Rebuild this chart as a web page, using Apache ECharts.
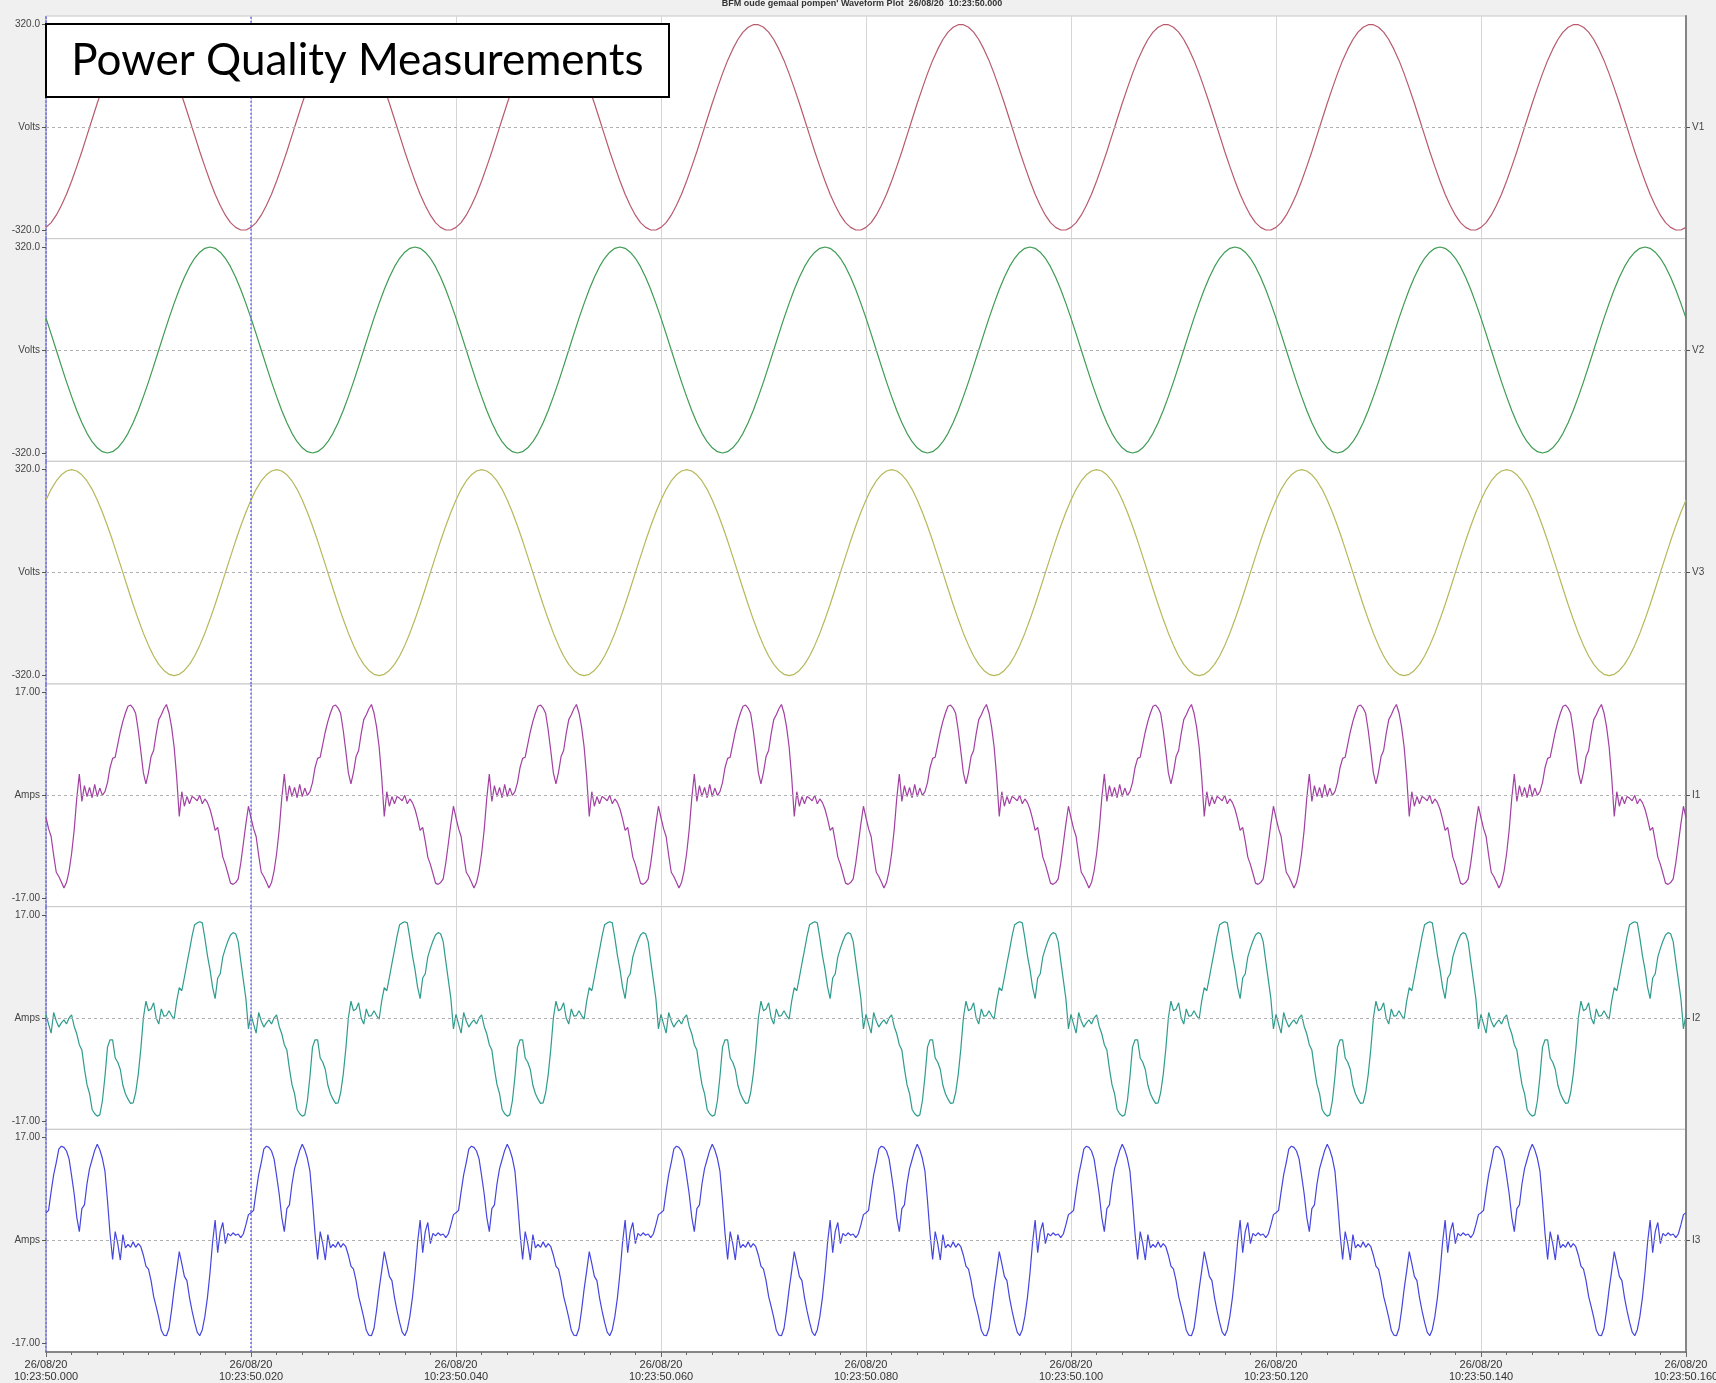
<!DOCTYPE html>
<html>
<head>
<meta charset="utf-8">
<script src="https://cdn.jsdelivr.net/npm/echarts@6/dist/echarts.min.js"></script>
<style>
html,body{margin:0;padding:0;background:#f0f0f0;}
#chart{width:1716px;height:1383px;}
</style>
</head>
<body>
<div id="chart"></div>
<script>
// ---------- data (time in ms from 10:23:50.000) ----------
const headerTitle = "BFM oude gemaal pompen' Waveform Plot  26/08/20  10:23:50.000";
const boxTitle = 'Power Quality Measurements';
const xTickDate = '26/08/20';
const xTickTimes = ['10:23:50.000','10:23:50.020','10:23:50.040','10:23:50.060','10:23:50.080','10:23:50.100','10:23:50.120','10:23:50.140','10:23:50.160'];
const channelNames = ['V1','V2','V3','I1','I2','I3'];
const voltTicks = [-320, 0, 320];
const voltTickLabels = ['-320.0', 'Volts', '320.0'];
const ampTicks = [-17, 0, 17];
const ampTickLabels = ['-17.00', 'Amps', '17.00'];
const V_SAMPLE_MS = 0.5;
const I_SAMPLE_MS = 0.25;

const v1Volts = [
-311,-296,-273,-243,-208,-167,-122,-75,-25,25,75,122,167,208,243,273,296,311,319,319,311,296,273,243,208,167,122,75,25,-25,-75,-122,-167,-208,-243,-273,-296,-311,-319,-319,
-311,-296,-273,-243,-208,-167,-122,-75,-25,25,75,122,167,208,243,273,296,311,319,319,311,296,273,243,208,167,122,75,25,-25,-75,-122,-167,-208,-243,-273,-296,-311,-319,-319,
-311,-296,-273,-243,-208,-167,-122,-75,-25,25,75,122,167,208,243,273,296,311,319,319,311,296,273,243,208,167,122,75,25,-25,-75,-122,-167,-208,-243,-273,-296,-311,-319,-319,
-311,-296,-273,-243,-208,-167,-122,-75,-25,25,75,122,167,208,243,273,296,311,319,319,311,296,273,243,208,167,122,75,25,-25,-75,-122,-167,-208,-243,-273,-296,-311,-319,-319,
-311,-296,-273,-243,-208,-167,-122,-75,-25,25,75,122,167,208,243,273,296,311,319,319,311,296,273,243,208,167,122,75,25,-25,-75,-122,-167,-208,-243,-273,-296,-311,-319,-319,
-311,-296,-273,-243,-208,-167,-122,-75,-25,25,75,122,167,208,243,273,296,311,319,319,311,296,273,243,208,167,122,75,25,-25,-75,-122,-167,-208,-243,-273,-296,-311,-319,-319,
-311,-296,-273,-243,-208,-167,-122,-75,-25,25,75,122,167,208,243,273,296,311,319,319,311,296,273,243,208,167,122,75,25,-25,-75,-122,-167,-208,-243,-273,-296,-311,-319,-319,
-311,-296,-273,-243,-208,-167,-122,-75,-25,25,75,122,167,208,243,273,296,311,319,319,311,296,273,243,208,167,122,75,25,-25,-75,-122,-167,-208,-243,-273,-296,-311,-319,-319,
-311
];
const v2Volts = [
99,50,0,-50,-99,-145,-188,-226,-259,-285,-304,-316,-320,-316,-304,-285,-259,-226,-188,-145,-99,-50,0,50,99,145,188,226,259,285,304,316,320,316,304,285,259,226,188,145,
99,50,0,-50,-99,-145,-188,-226,-259,-285,-304,-316,-320,-316,-304,-285,-259,-226,-188,-145,-99,-50,0,50,99,145,188,226,259,285,304,316,320,316,304,285,259,226,188,145,
99,50,0,-50,-99,-145,-188,-226,-259,-285,-304,-316,-320,-316,-304,-285,-259,-226,-188,-145,-99,-50,0,50,99,145,188,226,259,285,304,316,320,316,304,285,259,226,188,145,
99,50,0,-50,-99,-145,-188,-226,-259,-285,-304,-316,-320,-316,-304,-285,-259,-226,-188,-145,-99,-50,0,50,99,145,188,226,259,285,304,316,320,316,304,285,259,226,188,145,
99,50,0,-50,-99,-145,-188,-226,-259,-285,-304,-316,-320,-316,-304,-285,-259,-226,-188,-145,-99,-50,0,50,99,145,188,226,259,285,304,316,320,316,304,285,259,226,188,145,
99,50,0,-50,-99,-145,-188,-226,-259,-285,-304,-316,-320,-316,-304,-285,-259,-226,-188,-145,-99,-50,0,50,99,145,188,226,259,285,304,316,320,316,304,285,259,226,188,145,
99,50,0,-50,-99,-145,-188,-226,-259,-285,-304,-316,-320,-316,-304,-285,-259,-226,-188,-145,-99,-50,0,50,99,145,188,226,259,285,304,316,320,316,304,285,259,226,188,145,
99,50,0,-50,-99,-145,-188,-226,-259,-285,-304,-316,-320,-316,-304,-285,-259,-226,-188,-145,-99,-50,0,50,99,145,188,226,259,285,304,316,320,316,304,285,259,226,188,145,
99
];
const v3Volts = [
226,259,285,304,316,320,316,304,285,259,226,188,145,99,50,0,-50,-99,-145,-188,-226,-259,-285,-304,-316,-320,-316,-304,-285,-259,-226,-188,-145,-99,-50,0,50,99,145,188,
226,259,285,304,316,320,316,304,285,259,226,188,145,99,50,0,-50,-99,-145,-188,-226,-259,-285,-304,-316,-320,-316,-304,-285,-259,-226,-188,-145,-99,-50,0,50,99,145,188,
226,259,285,304,316,320,316,304,285,259,226,188,145,99,50,0,-50,-99,-145,-188,-226,-259,-285,-304,-316,-320,-316,-304,-285,-259,-226,-188,-145,-99,-50,0,50,99,145,188,
226,259,285,304,316,320,316,304,285,259,226,188,145,99,50,0,-50,-99,-145,-188,-226,-259,-285,-304,-316,-320,-316,-304,-285,-259,-226,-188,-145,-99,-50,0,50,99,145,188,
226,259,285,304,316,320,316,304,285,259,226,188,145,99,50,0,-50,-99,-145,-188,-226,-259,-285,-304,-316,-320,-316,-304,-285,-259,-226,-188,-145,-99,-50,0,50,99,145,188,
226,259,285,304,316,320,316,304,285,259,226,188,145,99,50,0,-50,-99,-145,-188,-226,-259,-285,-304,-316,-320,-316,-304,-285,-259,-226,-188,-145,-99,-50,0,50,99,145,188,
226,259,285,304,316,320,316,304,285,259,226,188,145,99,50,0,-50,-99,-145,-188,-226,-259,-285,-304,-316,-320,-316,-304,-285,-259,-226,-188,-145,-99,-50,0,50,99,145,188,
226,259,285,304,316,320,316,304,285,259,226,188,145,99,50,0,-50,-99,-145,-188,-226,-259,-285,-304,-316,-320,-316,-304,-285,-259,-226,-188,-145,-99,-50,0,50,99,145,188,
226
];
const i1Amps = [
-3.7,-5.5,-6.8,-9.9,-12.7,-13.4,-14.3,-15.3,-14.4,-12.5,-9.6,-5.7,-0.5,3.5,-1.0,1.6,-0.2,1.3,-0.4,1.8,-0.2,1.2,0.0,0.6,2.1,4.6,6.1,6.3,8.4,10.5,12.2,13.6,14.7,14.9,14.4,13.5,10.7,7.3,3.7,1.9,3.8,6.4,7.4,10.2,12.5,13.3,14.3,15.0,13.6,11.3,8.0,3.0,-3.5,0.6,-1.8,-0.2,-1.4,-0.2,-0.5,-0.9,0.0,-1.4,-0.6,-1.2,-2.3,-3.9,-5.8,-5.3,-7.6,-10.2,-11.4,-12.9,-14.5,-14.7,-14.4,-13.8,-11.2,-8.0,-4.7,-1.8,
-3.7,-5.5,-6.8,-9.9,-12.7,-13.4,-14.3,-15.3,-14.4,-12.5,-9.6,-5.7,-0.5,3.5,-1.0,1.6,-0.2,1.3,-0.4,1.8,-0.2,1.2,0.0,0.6,2.1,4.6,6.1,6.3,8.4,10.5,12.2,13.6,14.7,14.9,14.4,13.5,10.7,7.3,3.7,1.9,3.8,6.4,7.4,10.2,12.5,13.3,14.3,15.0,13.6,11.3,8.0,3.0,-3.5,0.6,-1.8,-0.2,-1.4,-0.2,-0.5,-0.9,0.0,-1.4,-0.6,-1.2,-2.3,-3.9,-5.8,-5.3,-7.6,-10.2,-11.4,-12.9,-14.5,-14.7,-14.4,-13.8,-11.2,-8.0,-4.7,-1.8,
-3.7,-5.5,-6.8,-9.9,-12.7,-13.4,-14.3,-15.3,-14.4,-12.5,-9.6,-5.7,-0.5,3.5,-1.0,1.6,-0.2,1.3,-0.4,1.8,-0.2,1.2,0.0,0.6,2.1,4.6,6.1,6.3,8.4,10.5,12.2,13.6,14.7,14.9,14.4,13.5,10.7,7.3,3.7,1.9,3.8,6.4,7.4,10.2,12.5,13.3,14.3,15.0,13.6,11.3,8.0,3.0,-3.5,0.6,-1.8,-0.2,-1.4,-0.2,-0.5,-0.9,0.0,-1.4,-0.6,-1.2,-2.3,-3.9,-5.8,-5.3,-7.6,-10.2,-11.4,-12.9,-14.5,-14.7,-14.4,-13.8,-11.2,-8.0,-4.7,-1.8,
-3.7,-5.5,-6.8,-9.9,-12.7,-13.4,-14.3,-15.3,-14.4,-12.5,-9.6,-5.7,-0.5,3.5,-1.0,1.6,-0.2,1.3,-0.4,1.8,-0.2,1.2,0.0,0.6,2.1,4.6,6.1,6.3,8.4,10.5,12.2,13.6,14.7,14.9,14.4,13.5,10.7,7.3,3.7,1.9,3.8,6.4,7.4,10.2,12.5,13.3,14.3,15.0,13.6,11.3,8.0,3.0,-3.5,0.6,-1.8,-0.2,-1.4,-0.2,-0.5,-0.9,0.0,-1.4,-0.6,-1.2,-2.3,-3.9,-5.8,-5.3,-7.6,-10.2,-11.4,-12.9,-14.5,-14.7,-14.4,-13.8,-11.2,-8.0,-4.7,-1.8,
-3.7,-5.5,-6.8,-9.9,-12.7,-13.4,-14.3,-15.3,-14.4,-12.5,-9.6,-5.7,-0.5,3.5,-1.0,1.6,-0.2,1.3,-0.4,1.8,-0.2,1.2,0.0,0.6,2.1,4.6,6.1,6.3,8.4,10.5,12.2,13.6,14.7,14.9,14.4,13.5,10.7,7.3,3.7,1.9,3.8,6.4,7.4,10.2,12.5,13.3,14.3,15.0,13.6,11.3,8.0,3.0,-3.5,0.6,-1.8,-0.2,-1.4,-0.2,-0.5,-0.9,0.0,-1.4,-0.6,-1.2,-2.3,-3.9,-5.8,-5.3,-7.6,-10.2,-11.4,-12.9,-14.5,-14.7,-14.4,-13.8,-11.2,-8.0,-4.7,-1.8,
-3.7,-5.5,-6.8,-9.9,-12.7,-13.4,-14.3,-15.3,-14.4,-12.5,-9.6,-5.7,-0.5,3.5,-1.0,1.6,-0.2,1.3,-0.4,1.8,-0.2,1.2,0.0,0.6,2.1,4.6,6.1,6.3,8.4,10.5,12.2,13.6,14.7,14.9,14.4,13.5,10.7,7.3,3.7,1.9,3.8,6.4,7.4,10.2,12.5,13.3,14.3,15.0,13.6,11.3,8.0,3.0,-3.5,0.6,-1.8,-0.2,-1.4,-0.2,-0.5,-0.9,0.0,-1.4,-0.6,-1.2,-2.3,-3.9,-5.8,-5.3,-7.6,-10.2,-11.4,-12.9,-14.5,-14.7,-14.4,-13.8,-11.2,-8.0,-4.7,-1.8,
-3.7,-5.5,-6.8,-9.9,-12.7,-13.4,-14.3,-15.3,-14.4,-12.5,-9.6,-5.7,-0.5,3.5,-1.0,1.6,-0.2,1.3,-0.4,1.8,-0.2,1.2,0.0,0.6,2.1,4.6,6.1,6.3,8.4,10.5,12.2,13.6,14.7,14.9,14.4,13.5,10.7,7.3,3.7,1.9,3.8,6.4,7.4,10.2,12.5,13.3,14.3,15.0,13.6,11.3,8.0,3.0,-3.5,0.6,-1.8,-0.2,-1.4,-0.2,-0.5,-0.9,0.0,-1.4,-0.6,-1.2,-2.3,-3.9,-5.8,-5.3,-7.6,-10.2,-11.4,-12.9,-14.5,-14.7,-14.4,-13.8,-11.2,-8.0,-4.7,-1.8,
-3.7,-5.5,-6.8,-9.9,-12.7,-13.4,-14.3,-15.3,-14.4,-12.5,-9.6,-5.7,-0.5,3.5,-1.0,1.6,-0.2,1.3,-0.4,1.8,-0.2,1.2,0.0,0.6,2.1,4.6,6.1,6.3,8.4,10.5,12.2,13.6,14.7,14.9,14.4,13.5,10.7,7.3,3.7,1.9,3.8,6.4,7.4,10.2,12.5,13.3,14.3,15.0,13.6,11.3,8.0,3.0,-3.5,0.6,-1.8,-0.2,-1.4,-0.2,-0.5,-0.9,0.0,-1.4,-0.6,-1.2,-2.3,-3.9,-5.8,-5.3,-7.6,-10.2,-11.4,-12.9,-14.5,-14.7,-14.4,-13.8,-11.2,-8.0,-4.7,-1.8,
-3.7
];
const i2Amps = [
0.6,-1.0,-2.5,0.9,-0.5,-1.5,-0.8,-0.3,-1.0,0.0,0.5,-1.4,-2.6,-4.4,-5.3,-8.4,-11.0,-12.5,-15.1,-15.8,-16.2,-16.0,-13.7,-9.7,-4.8,-3.6,-3.6,-6.6,-7.3,-8.5,-11.1,-12.5,-13.4,-14.1,-14.0,-12.3,-9.3,-5.1,0.0,2.8,1.2,1.5,2.5,0.0,-1.0,1.5,0.3,0.4,1.2,0.4,-0.2,2.8,5.0,4.5,6.7,9.0,11.2,13.5,15.4,15.7,15.9,15.7,13.2,10.3,8.0,5.1,3.2,6.6,7.3,10.1,11.5,12.7,13.7,14.1,13.9,12.6,9.4,6.3,3.2,-1.8,
0.6,-1.0,-2.5,0.9,-0.5,-1.5,-0.8,-0.3,-1.0,0.0,0.5,-1.4,-2.6,-4.4,-5.3,-8.4,-11.0,-12.5,-15.1,-15.8,-16.2,-16.0,-13.7,-9.7,-4.8,-3.6,-3.6,-6.6,-7.3,-8.5,-11.1,-12.5,-13.4,-14.1,-14.0,-12.3,-9.3,-5.1,0.0,2.8,1.2,1.5,2.5,0.0,-1.0,1.5,0.3,0.4,1.2,0.4,-0.2,2.8,5.0,4.5,6.7,9.0,11.2,13.5,15.4,15.7,15.9,15.7,13.2,10.3,8.0,5.1,3.2,6.6,7.3,10.1,11.5,12.7,13.7,14.1,13.9,12.6,9.4,6.3,3.2,-1.8,
0.6,-1.0,-2.5,0.9,-0.5,-1.5,-0.8,-0.3,-1.0,0.0,0.5,-1.4,-2.6,-4.4,-5.3,-8.4,-11.0,-12.5,-15.1,-15.8,-16.2,-16.0,-13.7,-9.7,-4.8,-3.6,-3.6,-6.6,-7.3,-8.5,-11.1,-12.5,-13.4,-14.1,-14.0,-12.3,-9.3,-5.1,0.0,2.8,1.2,1.5,2.5,0.0,-1.0,1.5,0.3,0.4,1.2,0.4,-0.2,2.8,5.0,4.5,6.7,9.0,11.2,13.5,15.4,15.7,15.9,15.7,13.2,10.3,8.0,5.1,3.2,6.6,7.3,10.1,11.5,12.7,13.7,14.1,13.9,12.6,9.4,6.3,3.2,-1.8,
0.6,-1.0,-2.5,0.9,-0.5,-1.5,-0.8,-0.3,-1.0,0.0,0.5,-1.4,-2.6,-4.4,-5.3,-8.4,-11.0,-12.5,-15.1,-15.8,-16.2,-16.0,-13.7,-9.7,-4.8,-3.6,-3.6,-6.6,-7.3,-8.5,-11.1,-12.5,-13.4,-14.1,-14.0,-12.3,-9.3,-5.1,0.0,2.8,1.2,1.5,2.5,0.0,-1.0,1.5,0.3,0.4,1.2,0.4,-0.2,2.8,5.0,4.5,6.7,9.0,11.2,13.5,15.4,15.7,15.9,15.7,13.2,10.3,8.0,5.1,3.2,6.6,7.3,10.1,11.5,12.7,13.7,14.1,13.9,12.6,9.4,6.3,3.2,-1.8,
0.6,-1.0,-2.5,0.9,-0.5,-1.5,-0.8,-0.3,-1.0,0.0,0.5,-1.4,-2.6,-4.4,-5.3,-8.4,-11.0,-12.5,-15.1,-15.8,-16.2,-16.0,-13.7,-9.7,-4.8,-3.6,-3.6,-6.6,-7.3,-8.5,-11.1,-12.5,-13.4,-14.1,-14.0,-12.3,-9.3,-5.1,0.0,2.8,1.2,1.5,2.5,0.0,-1.0,1.5,0.3,0.4,1.2,0.4,-0.2,2.8,5.0,4.5,6.7,9.0,11.2,13.5,15.4,15.7,15.9,15.7,13.2,10.3,8.0,5.1,3.2,6.6,7.3,10.1,11.5,12.7,13.7,14.1,13.9,12.6,9.4,6.3,3.2,-1.8,
0.6,-1.0,-2.5,0.9,-0.5,-1.5,-0.8,-0.3,-1.0,0.0,0.5,-1.4,-2.6,-4.4,-5.3,-8.4,-11.0,-12.5,-15.1,-15.8,-16.2,-16.0,-13.7,-9.7,-4.8,-3.6,-3.6,-6.6,-7.3,-8.5,-11.1,-12.5,-13.4,-14.1,-14.0,-12.3,-9.3,-5.1,0.0,2.8,1.2,1.5,2.5,0.0,-1.0,1.5,0.3,0.4,1.2,0.4,-0.2,2.8,5.0,4.5,6.7,9.0,11.2,13.5,15.4,15.7,15.9,15.7,13.2,10.3,8.0,5.1,3.2,6.6,7.3,10.1,11.5,12.7,13.7,14.1,13.9,12.6,9.4,6.3,3.2,-1.8,
0.6,-1.0,-2.5,0.9,-0.5,-1.5,-0.8,-0.3,-1.0,0.0,0.5,-1.4,-2.6,-4.4,-5.3,-8.4,-11.0,-12.5,-15.1,-15.8,-16.2,-16.0,-13.7,-9.7,-4.8,-3.6,-3.6,-6.6,-7.3,-8.5,-11.1,-12.5,-13.4,-14.1,-14.0,-12.3,-9.3,-5.1,0.0,2.8,1.2,1.5,2.5,0.0,-1.0,1.5,0.3,0.4,1.2,0.4,-0.2,2.8,5.0,4.5,6.7,9.0,11.2,13.5,15.4,15.7,15.9,15.7,13.2,10.3,8.0,5.1,3.2,6.6,7.3,10.1,11.5,12.7,13.7,14.1,13.9,12.6,9.4,6.3,3.2,-1.8,
0.6,-1.0,-2.5,0.9,-0.5,-1.5,-0.8,-0.3,-1.0,0.0,0.5,-1.4,-2.6,-4.4,-5.3,-8.4,-11.0,-12.5,-15.1,-15.8,-16.2,-16.0,-13.7,-9.7,-4.8,-3.6,-3.6,-6.6,-7.3,-8.5,-11.1,-12.5,-13.4,-14.1,-14.0,-12.3,-9.3,-5.1,0.0,2.8,1.2,1.5,2.5,0.0,-1.0,1.5,0.3,0.4,1.2,0.4,-0.2,2.8,5.0,4.5,6.7,9.0,11.2,13.5,15.4,15.7,15.9,15.7,13.2,10.3,8.0,5.1,3.2,6.6,7.3,10.1,11.5,12.7,13.7,14.1,13.9,12.6,9.4,6.3,3.2,-1.8,
0.6
];
const i3Amps = [
4.6,5.0,8.1,10.9,12.9,15.1,15.6,15.4,14.8,13.5,10.7,7.7,3.9,1.5,5.3,5.9,9.4,11.9,13.4,14.9,15.9,15.0,13.6,11.5,6.6,1.1,-3.1,1.5,-0.5,-3.2,1.0,-1.2,-0.6,-1.1,-0.2,-1.1,-0.5,-1.0,-2.4,-4.2,-4.7,-6.6,-9.2,-10.9,-12.7,-14.8,-15.6,-15.7,-14.5,-11.5,-8.0,-5.0,-1.8,-3.8,-5.9,-6.6,-9.4,-11.6,-13.5,-15.1,-15.7,-14.7,-12.5,-9.4,-5.3,-0.3,3.4,-2.0,1.5,3.0,-0.5,1.2,0.8,1.3,0.9,1.1,0.5,1.1,2.6,4.3,
4.6,5.0,8.1,10.9,12.9,15.1,15.6,15.4,14.8,13.5,10.7,7.7,3.9,1.5,5.3,5.9,9.4,11.9,13.4,14.9,15.9,15.0,13.6,11.5,6.6,1.1,-3.1,1.5,-0.5,-3.2,1.0,-1.2,-0.6,-1.1,-0.2,-1.1,-0.5,-1.0,-2.4,-4.2,-4.7,-6.6,-9.2,-10.9,-12.7,-14.8,-15.6,-15.7,-14.5,-11.5,-8.0,-5.0,-1.8,-3.8,-5.9,-6.6,-9.4,-11.6,-13.5,-15.1,-15.7,-14.7,-12.5,-9.4,-5.3,-0.3,3.4,-2.0,1.5,3.0,-0.5,1.2,0.8,1.3,0.9,1.1,0.5,1.1,2.6,4.3,
4.6,5.0,8.1,10.9,12.9,15.1,15.6,15.4,14.8,13.5,10.7,7.7,3.9,1.5,5.3,5.9,9.4,11.9,13.4,14.9,15.9,15.0,13.6,11.5,6.6,1.1,-3.1,1.5,-0.5,-3.2,1.0,-1.2,-0.6,-1.1,-0.2,-1.1,-0.5,-1.0,-2.4,-4.2,-4.7,-6.6,-9.2,-10.9,-12.7,-14.8,-15.6,-15.7,-14.5,-11.5,-8.0,-5.0,-1.8,-3.8,-5.9,-6.6,-9.4,-11.6,-13.5,-15.1,-15.7,-14.7,-12.5,-9.4,-5.3,-0.3,3.4,-2.0,1.5,3.0,-0.5,1.2,0.8,1.3,0.9,1.1,0.5,1.1,2.6,4.3,
4.6,5.0,8.1,10.9,12.9,15.1,15.6,15.4,14.8,13.5,10.7,7.7,3.9,1.5,5.3,5.9,9.4,11.9,13.4,14.9,15.9,15.0,13.6,11.5,6.6,1.1,-3.1,1.5,-0.5,-3.2,1.0,-1.2,-0.6,-1.1,-0.2,-1.1,-0.5,-1.0,-2.4,-4.2,-4.7,-6.6,-9.2,-10.9,-12.7,-14.8,-15.6,-15.7,-14.5,-11.5,-8.0,-5.0,-1.8,-3.8,-5.9,-6.6,-9.4,-11.6,-13.5,-15.1,-15.7,-14.7,-12.5,-9.4,-5.3,-0.3,3.4,-2.0,1.5,3.0,-0.5,1.2,0.8,1.3,0.9,1.1,0.5,1.1,2.6,4.3,
4.6,5.0,8.1,10.9,12.9,15.1,15.6,15.4,14.8,13.5,10.7,7.7,3.9,1.5,5.3,5.9,9.4,11.9,13.4,14.9,15.9,15.0,13.6,11.5,6.6,1.1,-3.1,1.5,-0.5,-3.2,1.0,-1.2,-0.6,-1.1,-0.2,-1.1,-0.5,-1.0,-2.4,-4.2,-4.7,-6.6,-9.2,-10.9,-12.7,-14.8,-15.6,-15.7,-14.5,-11.5,-8.0,-5.0,-1.8,-3.8,-5.9,-6.6,-9.4,-11.6,-13.5,-15.1,-15.7,-14.7,-12.5,-9.4,-5.3,-0.3,3.4,-2.0,1.5,3.0,-0.5,1.2,0.8,1.3,0.9,1.1,0.5,1.1,2.6,4.3,
4.6,5.0,8.1,10.9,12.9,15.1,15.6,15.4,14.8,13.5,10.7,7.7,3.9,1.5,5.3,5.9,9.4,11.9,13.4,14.9,15.9,15.0,13.6,11.5,6.6,1.1,-3.1,1.5,-0.5,-3.2,1.0,-1.2,-0.6,-1.1,-0.2,-1.1,-0.5,-1.0,-2.4,-4.2,-4.7,-6.6,-9.2,-10.9,-12.7,-14.8,-15.6,-15.7,-14.5,-11.5,-8.0,-5.0,-1.8,-3.8,-5.9,-6.6,-9.4,-11.6,-13.5,-15.1,-15.7,-14.7,-12.5,-9.4,-5.3,-0.3,3.4,-2.0,1.5,3.0,-0.5,1.2,0.8,1.3,0.9,1.1,0.5,1.1,2.6,4.3,
4.6,5.0,8.1,10.9,12.9,15.1,15.6,15.4,14.8,13.5,10.7,7.7,3.9,1.5,5.3,5.9,9.4,11.9,13.4,14.9,15.9,15.0,13.6,11.5,6.6,1.1,-3.1,1.5,-0.5,-3.2,1.0,-1.2,-0.6,-1.1,-0.2,-1.1,-0.5,-1.0,-2.4,-4.2,-4.7,-6.6,-9.2,-10.9,-12.7,-14.8,-15.6,-15.7,-14.5,-11.5,-8.0,-5.0,-1.8,-3.8,-5.9,-6.6,-9.4,-11.6,-13.5,-15.1,-15.7,-14.7,-12.5,-9.4,-5.3,-0.3,3.4,-2.0,1.5,3.0,-0.5,1.2,0.8,1.3,0.9,1.1,0.5,1.1,2.6,4.3,
4.6,5.0,8.1,10.9,12.9,15.1,15.6,15.4,14.8,13.5,10.7,7.7,3.9,1.5,5.3,5.9,9.4,11.9,13.4,14.9,15.9,15.0,13.6,11.5,6.6,1.1,-3.1,1.5,-0.5,-3.2,1.0,-1.2,-0.6,-1.1,-0.2,-1.1,-0.5,-1.0,-2.4,-4.2,-4.7,-6.6,-9.2,-10.9,-12.7,-14.8,-15.6,-15.7,-14.5,-11.5,-8.0,-5.0,-1.8,-3.8,-5.9,-6.6,-9.4,-11.6,-13.5,-15.1,-15.7,-14.7,-12.5,-9.4,-5.3,-0.3,3.4,-2.0,1.5,3.0,-0.5,1.2,0.8,1.3,0.9,1.1,0.5,1.1,2.6,4.3,
4.6
];
const cursorTimesMs = [20];

// ---------- layout / style ----------
const channelValues = [v1Volts, v2Volts, v3Volts, i1Amps, i2Amps, i3Amps];
const channelStep = [V_SAMPLE_MS, V_SAMPLE_MS, V_SAMPLE_MS, I_SAMPLE_MS, I_SAMPLE_MS, I_SAMPLE_MS];
const channelColors = ['#b85a6e', '#3e9b52', '#b6b85a', '#a340a3', '#2f9c8d', '#4545e0'];
const isVolt = [true, true, true, false, false, false];

const PLOT_LEFT = 46, PLOT_RIGHT = 30, PLOT_TOP = 16, PLOT_BOTTOM = 1352;
const PANEL_H = (PLOT_BOTTOM - PLOT_TOP) / 6;
const FONT = 'Liberation Sans, Arial, sans-serif';

const grids = [], xAxes = [], yAxes = [], series = [];
for (let i = 0; i < 6; i++) {
  const last = i === 5;
  const ticks = isVolt[i] ? voltTicks : ampTicks;
  const tickLabels = isVolt[i] ? voltTickLabels : ampTickLabels;
  const lim = isVolt[i] ? 346 : 18.38;
  grids.push({
    left: PLOT_LEFT, right: PLOT_RIGHT, top: PLOT_TOP + i * PANEL_H, height: PANEL_H,
    containLabel: false, outerBoundsMode: 'none',
    show: true, backgroundColor: '#ffffff', borderColor: '#c6c6c6', borderWidth: 1
  });
  xAxes.push({
    type: 'value', gridIndex: i, min: 0, max: 160, interval: 20,
    axisLine: { show: last, onZero: false, lineStyle: { color: '#6a6a6a', width: 1.5 } },
    axisTick: { show: last, length: 5, lineStyle: { color: '#6a6a6a' } },
    minorTick: { show: last, splitNumber: 8, length: 3, lineStyle: { color: '#6a6a6a' } },
    axisLabel: {
      show: last, margin: 7, fontSize: 11, lineHeight: 12, color: '#333', fontFamily: FONT,
      showMinLabel: true, showMaxLabel: true, hideOverlap: false,
      formatter: v => xTickDate + '\n' + xTickTimes[Math.round(v / 20)]
    },
    splitLine: { show: true, lineStyle: { color: '#d6d6d6', width: 1 } }
  });
  yAxes.push({
    type: 'value', gridIndex: i, position: 'left', min: -lim, max: lim,
    axisLine: { show: true, onZero: false, lineStyle: { color: '#6b6be0', type: [2, 2], width: 1.5 } },
    axisTick: { show: true, length: 4, customValues: ticks, lineStyle: { color: '#555' } },
    axisLabel: {
      show: true, customValues: ticks, margin: 6, fontSize: 10, color: '#444', fontFamily: FONT,
      formatter: v => tickLabels[ticks.indexOf(v)]
    },
    splitLine: { show: false }
  });
  yAxes.push({
    type: 'value', gridIndex: i, position: 'right', min: -lim, max: lim,
    axisLine: { show: true, onZero: false, lineStyle: { color: '#858585', width: 2 } },
    axisTick: { show: true, length: 4, customValues: [0], lineStyle: { color: '#555' } },
    axisLabel: {
      show: true, customValues: [0], margin: 6, fontSize: 10, color: '#444', fontFamily: FONT,
      formatter: () => channelNames[i]
    },
    splitLine: { show: false }
  });
  const step = channelStep[i];
  series.push({
    name: channelNames[i], type: 'line', xAxisIndex: i, yAxisIndex: 2 * i,
    data: channelValues[i].map((v, k) => [k * step, v]),
    showSymbol: false, symbol: 'none', smooth: false, clip: true,
    lineStyle: { color: channelColors[i], width: 1.2 },
    itemStyle: { color: channelColors[i] },
    animation: false, z: 3,
    markLine: {
      silent: true, symbol: 'none', label: { show: false }, animation: false,
      data: [
        { yAxis: 0, lineStyle: { color: '#b0b0b0', type: [3, 3], width: 1 } }
      ].concat(cursorTimesMs.map(t => ({ xAxis: t, lineStyle: { color: '#6b6be0', type: [2, 2], width: 1.5 } })))
    }
  });
}

const chart = echarts.init(document.getElementById('chart'), null, { renderer: 'canvas' });
chart.setOption({
  backgroundColor: '#f0f0f0',
  animation: false,
  grid: grids,
  xAxis: xAxes,
  yAxis: yAxes,
  series: series,
  graphic: [
    {
      type: 'text', x: 862, y: 4, z: 100, zlevel: 1,
      style: { text: headerTitle, font: 'bold 9px ' + FONT, fill: '#333', align: 'center', verticalAlign: 'middle' }
    },
    {
      type: 'rect', x: 46, y: 24, z: 100, zlevel: 1,
      shape: { x: 0, y: 0, width: 623, height: 73 },
      style: { fill: '#ffffff', stroke: '#000000', lineWidth: 2 }
    },
    {
      type: 'text', x: 357.5, y: 61, z: 101, zlevel: 1,
      style: { text: boxTitle, font: '44px Lato, "Open Sans", sans-serif', fill: '#000', align: 'center', verticalAlign: 'middle' }
    }
  ]
});
</script>
</body>
</html>
